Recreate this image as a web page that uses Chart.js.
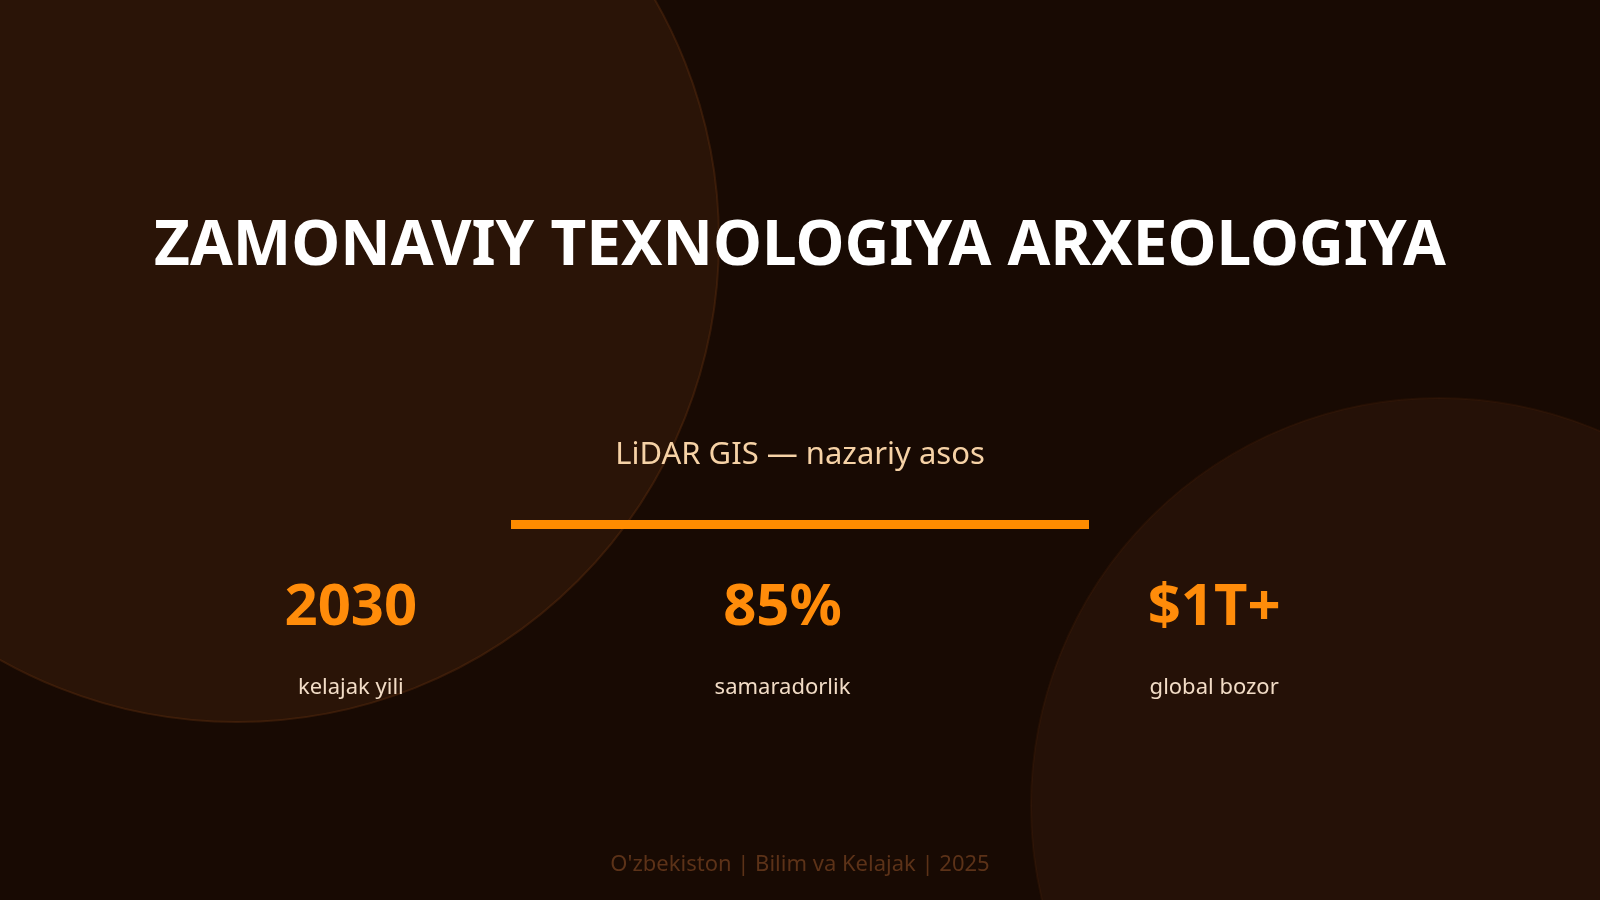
<!DOCTYPE html>
<html>
<head>
<meta charset="utf-8">
<script src="https://cdn.jsdelivr.net/npm/chart.js@4.4.1/dist/chart.umd.min.js"></script>
<style>
  html, body { margin: 0; padding: 0; background: #180a03; overflow: hidden; }
  #wrap { position: relative; width: 1600px; height: 900px; font-family: "Noto Sans", sans-serif; }
  #chart { position: absolute; left: 0; top: 0; }
  .t { position: absolute; left: 0; width: 1600px; text-align: center; }
</style>
</head>
<body>
<div id="wrap">
  <canvas id="chart" width="1600" height="900"></canvas>
  <div class="t" style="top:199px;font-size:62px;font-weight:700;color:#fff;">ZAMONAVIY TEXNOLOGIYA ARXEOLOGIYA</div>
  <div class="t" style="top:431px;font-size:31px;color:#f6d2a6;">LiDAR GIS — nazariy asos</div>
  <div style="position:absolute;left:511px;top:520px;width:578px;height:9px;background:#ff8c00;"></div>
  <div class="t" style="top:847px;font-size:22px;color:#5c3218;">O'zbekiston | Bilim va Kelajak | 2025</div>
</div>
<script>
// stat cards
const statValues = ['2030', '85%', '$1T+'];
const statLabels = ['kelajak yili', 'samaradorlik', 'global bozor'];

// background decoration
const bgCircles = [
  { cx: 237, cy: 240, r: 482, fill: '#2a1407', edge: 'rgba(120,60,20,0.3)' },
  { cx: 1439, cy: 806, r: 408, fill: '#251107', edge: 'rgba(120,60,20,0.12)' }
];

const backdrop = {
  id: 'backdrop',
  beforeDraw(chart) {
    const ctx = chart.ctx;
    ctx.save();
    bgCircles.forEach(c => {
      ctx.beginPath();
      ctx.arc(c.cx, c.cy, c.r, 0, Math.PI * 2);
      ctx.fillStyle = c.fill;
      ctx.fill();
      ctx.strokeStyle = c.edge;
      ctx.lineWidth = 2;
      ctx.stroke();
    });
    ctx.restore();
  }
};

const statText = {
  id: 'statText',
  afterDatasetsDraw(chart) {
    const ctx = chart.ctx;
    const xs = chart.scales.x;
    ctx.save();
    ctx.textAlign = 'center';
    ctx.textBaseline = 'middle';
    statValues.forEach((v, i) => {
      const x = xs.getPixelForValue(i);
      ctx.fillStyle = '#ff8c0a';
      ctx.font = 'bold 58px "Noto Sans"';
      ctx.fillText(v, x, 608);
      ctx.fillStyle = '#f2dcc6';
      ctx.font = '22px "Noto Sans"';
      ctx.fillText(statLabels[i], x, 688);
    });
    ctx.restore();
  }
};

new Chart('chart', {
  type: 'scatter',
  data: {
    labels: statValues,
    datasets: [{ data: statValues.map((v, i) => ({ x: i, y: 1 })), pointRadius: 0 }]
  },
  options: {
    responsive: false,
    animation: false,
    layout: { padding: { left: 135, right: 170 } },
    plugins: { legend: { display: false }, tooltip: { enabled: false } },
    scales: {
      x: { type: 'linear', min: -0.5, max: 2.5, display: false },
      y: { min: 0, max: 2, display: false }
    }
  },
  plugins: [backdrop, statText]
});
</script>
</body>
</html>
